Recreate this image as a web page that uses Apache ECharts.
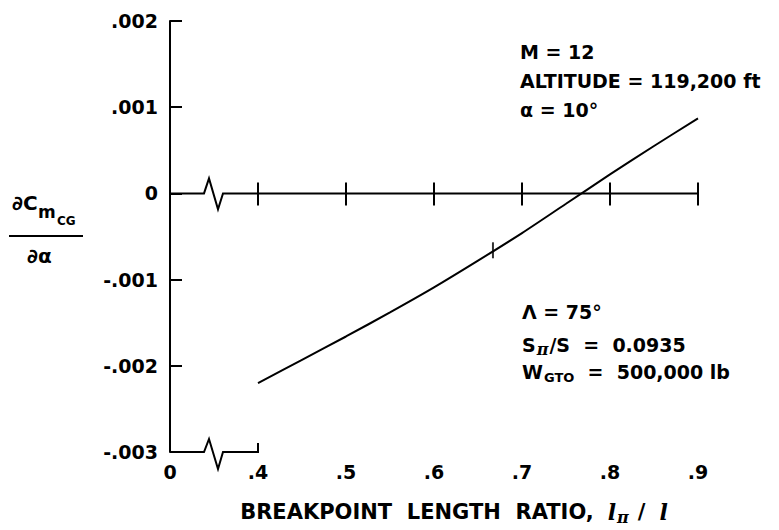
<!DOCTYPE html>
<html>
<head>
<meta charset="utf-8">
<script src="https://cdn.jsdelivr.net/npm/echarts@6/dist/echarts.min.js"></script>
<style>
  html, body { margin: 0; padding: 0; background: #fff; }
  #chart { width: 779px; height: 530px; }
</style>
</head>
<body>
<div id="chart"></div>
<script>
// Breakpoint length ratio (l_pi / l) and the pitching-moment slope dCm_cg/dalpha
const ratio = [0.40, 0.45, 0.50, 0.55, 0.60, 0.65, 0.70, 0.75, 0.80, 0.85, 0.90];
const dCmda = [-0.00220, -0.00193, -0.00166, -0.00138, -0.00109, -0.00078, -0.00046, -0.00012, 0.00022, 0.00055, 0.00087];

// Tick mark on the curve
const markRatio = [0.667];
const markValue = [-0.00066];

// Axis ticks
const xTicks = [0, 0.4, 0.5, 0.6, 0.7, 0.8, 0.9];
const yTicks = [-0.003, -0.002, -0.001, 0, 0.001, 0.002];

// Zero reference line extends over the plotted ratio range
const zeroLineRange = [0, 0.9];

// Broken x scale: 0 sits one division to the left of .4, the gap 0..0.4 is cut out
const SHIFT = 0.3;
const BREAK_POS = 0.05;
function toAxis(v) { return v >= 0.4 ? v - SHIFT : v * 0.1 / 0.4; }
function fromAxis(p) { return p < 0.05 ? p : p + SHIFT; }

const FONT = '"DejaVu Sans", "Noto Sans", sans-serif';
const SERIF = '"DejaVu Serif", serif';
const INK = '#000';

function zigzag(bx, y, up, down) {
  return [[bx - 10, y], [bx - 5, y - up], [bx + 4, y + down], [bx + 9, y]];
}

const chart = echarts.init(document.getElementById('chart'), null, { renderer: 'svg' });

const option = {
  animation: false,
  backgroundColor: '#fff',
  grid: { left: 170, right: 81, top: 21, bottom: 77 },
  xAxis: {
    type: 'value',
    min: toAxis(xTicks[0]),
    max: toAxis(xTicks[xTicks.length - 1]),
    interval: 0.1,
    axisLine: { show: false },
    axisTick: { show: true, inside: true, length: 9, lineStyle: { color: INK, width: 2 } },
    splitLine: { show: false },
    axisLabel: {
      color: INK, fontFamily: FONT, fontWeight: 'bold', fontSize: 19, margin: 10,
      formatter: function (p) {
        const v = fromAxis(p);
        if (Math.abs(v) < 1e-9) return '0';
        return '.' + Math.round(v * 10);
      }
    },
    name: '{t|BREAKPOINT  LENGTH  RATIO,}{l|l}{s|π}{d|/}{l|l}',
    nameLocation: 'middle',
    nameGap: 47,
    nameTextStyle: {
      padding: [0, 0, 0, 40],
      rich: {
        t: { fontFamily: FONT, fontWeight: 'bold', fontSize: 21, color: INK, lineHeight: 26 },
        l: { fontFamily: SERIF, fontStyle: 'italic', fontWeight: 'bold', fontSize: 22, color: INK, lineHeight: 26, padding: [0, 0, 0, 14] },
        s: { fontFamily: SERIF, fontStyle: 'italic', fontWeight: 'bold', fontSize: 16, color: INK, lineHeight: 10, verticalAlign: 'bottom', padding: [8, 0, 0, 1] },
        d: { fontFamily: FONT, fontWeight: 'bold', fontSize: 21, color: INK, lineHeight: 26, padding: [0, 0, 0, 9] }
      }
    }
  },
  yAxis: {
    type: 'value',
    min: yTicks[0],
    max: yTicks[yTicks.length - 1],
    interval: 0.001,
    axisLine: { show: true, onZero: false, lineStyle: { color: INK, width: 2 } },
    axisTick: { show: true, inside: true, length: 12, lineStyle: { color: INK, width: 2 } },
    splitLine: { show: false },
    axisLabel: {
      color: INK, fontFamily: FONT, fontWeight: 'bold', fontSize: 19, margin: 12,
      formatter: function (v) {
        if (Math.abs(v) < 1e-9) return '0';
        const s = Math.abs(v).toFixed(3).replace(/^0/, '');
        return (v < 0 ? '-' : '') + s;
      }
    }
  },
  series: [
    {
      // zero reference line with its break and crossing ticks
      type: 'custom',
      clip: false,
      silent: true,
      data: [[toAxis(zeroLineRange[0]), 0]],
      renderItem: function (params, api) {
        const y = api.coord([0, 0])[1];
        const x0 = api.coord([toAxis(zeroLineRange[0]), 0])[0];
        const x1 = api.coord([toAxis(zeroLineRange[1]), 0])[0];
        const bx = api.coord([BREAK_POS, 0])[0];
        const pts = [[x0, y]].concat(zigzag(bx, y, 15, 16), [[x1, y]]);
        const children = [{
          type: 'polyline', shape: { points: pts },
          style: { stroke: INK, lineWidth: 2, fill: null }
        }];
        xTicks.filter(function (t) { return t >= 0.4; }).forEach(function (t) {
          const x = api.coord([toAxis(t), 0])[0];
          children.push({
            type: 'line', shape: { x1: x, y1: y - 11, x2: x, y2: y + 12 },
            style: { stroke: INK, lineWidth: 2 }
          });
        });
        return { type: 'group', children: children };
      }
    },
    {
      // short bottom axis segment from 0 to .4 with the break
      type: 'custom',
      clip: false,
      silent: true,
      data: [[toAxis(xTicks[0]), yTicks[0]]],
      renderItem: function (params, api) {
        const y = api.coord([0, yTicks[0]])[1];
        const x0 = api.coord([toAxis(0), yTicks[0]])[0];
        const x4 = api.coord([toAxis(0.4), yTicks[0]])[0];
        const bx = api.coord([BREAK_POS, yTicks[0]])[0];
        const pts = [[x0, y]].concat(zigzag(bx, y, 13, 17), [[x4, y], [x4, y - 9]]);
        return {
          type: 'polyline', shape: { points: pts },
          style: { stroke: INK, lineWidth: 2, fill: null }
        };
      }
    },
    {
      type: 'line',
      smooth: 0.3,
      showSymbol: false,
      silent: true,
      lineStyle: { color: INK, width: 2 },
      data: ratio.map(function (r, i) { return [toAxis(r), dCmda[i]]; })
    },
    {
      type: 'scatter',
      silent: true,
      symbol: 'rect',
      symbolSize: [2, 16],
      itemStyle: { color: INK },
      data: markRatio.map(function (r, i) { return [toAxis(r), markValue[i]]; })
    }
  ],
  graphic: [
    // y-axis title: partial derivative of Cm_cg with respect to alpha
    { type: 'text', left: 12, top: 193, style: { text: '∂C', font: 'bold 20px ' + FONT, fill: INK } },
    { type: 'text', left: 38, top: 203, style: { text: 'm', font: 'bold 17px ' + FONT, fill: INK } },
    { type: 'text', left: 57, top: 215, style: { text: 'CG', font: 'bold 12px ' + FONT, fill: INK } },
    { type: 'line', shape: { x1: 9, y1: 236, x2: 83, y2: 236 }, style: { stroke: INK, lineWidth: 2 } },
    { type: 'text', left: 27, top: 246, style: { text: '∂α', font: 'bold 20px ' + FONT, fill: INK } },

    // flight condition
    { type: 'text', left: 520, top: 42, style: { text: 'M = 12', font: 'bold 19px ' + FONT, fill: INK } },
    { type: 'text', left: 520, top: 71, style: { text: 'ALTITUDE = 119,200 ft', font: 'bold 19px ' + FONT, fill: INK } },
    { type: 'text', left: 520, top: 100, style: { text: 'α = 10°', font: 'bold 19px ' + FONT, fill: INK } },

    // configuration
    { type: 'text', left: 522, top: 302, style: { text: 'Λ = 75°', font: 'bold 19px ' + FONT, fill: INK } },
    {
      type: 'text', left: 522, top: 334,
      style: {
        text: '{a|S}{s|π}{a|/S  =  0.0935}',
        rich: {
          a: { font: 'bold 19px ' + FONT, fill: INK, lineHeight: 24 },
          s: { font: 'italic bold 16px ' + SERIF, fill: INK, lineHeight: 10, verticalAlign: 'bottom', padding: [7, 1, 0, 1] }
        }
      }
    },
    {
      type: 'text', left: 522, top: 362,
      style: {
        text: '{a|W}{s|GTO}{a|  =  500,000 lb}',
        rich: {
          a: { font: 'bold 19px ' + FONT, fill: INK, lineHeight: 24 },
          s: { font: 'bold 13px ' + FONT, fill: INK, lineHeight: 10, verticalAlign: 'bottom', padding: [7, 0, 0, 1] }
        }
      }
    }
  ]
};

chart.setOption(option);
</script>
</body>
</html>
